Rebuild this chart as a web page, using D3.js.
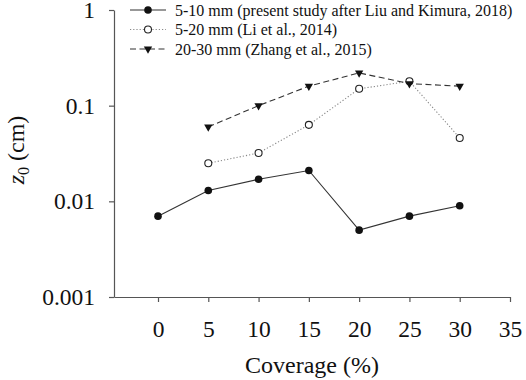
<!DOCTYPE html>
<html>
<head>
<meta charset="utf-8">
<script src="https://cdn.jsdelivr.net/npm/d3@7"></script>
<style>
  body { margin: 0; background: #fff; }
</style>
</head>
<body>
<script>
const width = 526, height = 380
const serif = '"Liberation Serif"'

const coverage = [0, 5, 10, 15, 20, 25, 30]
const liuKimura = [0.007, 0.013, 0.017, 0.021, 0.005, 0.007, 0.009]
const liCoverage = [5, 10, 15, 20, 25, 30]
const li2014 = [0.025, 0.032, 0.063, 0.15, 0.18, 0.046]
const zhangCoverage = [5, 10, 15, 20, 25, 30]
const zhang2015 = [0.06, 0.1, 0.16, 0.22, 0.17, 0.16]

const xTicks = [0, 5, 10, 15, 20, 25, 30, 35]
const yTicks = [0.001, 0.01, 0.1, 1]
const yTickLabels = ['0.001', '0.01', '0.1', '1']

const series = [
  { label: '5-10 mm (present study after Liu and Kimura, 2018)', xs: coverage, ys: liuKimura,
    marker: 'filled', dash: null, stroke: '#333' },
  { label: '5-20 mm (Li et al., 2014)', xs: liCoverage, ys: li2014,
    marker: 'open', dash: '1.2,2', stroke: '#888' },
  { label: '20-30 mm (Zhang et al., 2015)', xs: zhangCoverage, ys: zhang2015,
    marker: 'triangle', dash: '6,3.5', stroke: '#333' }
]

const x = d3.scaleLinear().domain([-4.375, 35]).range([114, 510])
const y = d3.scaleLog().domain([0.001, 1]).range([297, 10])

const svg = d3.select('body').append('svg')
  .attr('width', width)
  .attr('height', height)

// axes
svg.append('g')
  .attr('transform', `translate(0,${y(0.001)})`)
  .call(d3.axisBottom(x).tickValues(xTicks).tickSize(5).tickSizeOuter(0).tickPadding(18))

svg.append('g')
  .attr('transform', `translate(${x(-4.375)},0)`)
  .call(d3.axisLeft(y).tickValues(yTicks).tickFormat((d, i) => yTickLabels[i])
    .tickSize(5).tickSizeOuter(0).tickPadding(14))

svg.selectAll('.domain, .tick line').attr('stroke', '#555').attr('stroke-width', 1.2)
svg.selectAll('.tick text')
  .style('font-family', serif)
  .attr('font-size', 23.5)
  .attr('fill', '#111')

// axis titles
svg.append('text')
  .attr('x', 312).attr('y', 373)
  .attr('text-anchor', 'middle')
  .style('font-family', serif)
  .attr('font-size', 24)
  .attr('fill', '#111')
  .text('Coverage (%)')

const yt = svg.append('text')
  .attr('transform', 'translate(24,150) rotate(-90)')
  .attr('text-anchor', 'middle')
  .style('font-family', serif)
  .attr('font-size', 24)
  .attr('fill', '#111')
yt.append('tspan').attr('font-style', 'italic').text('z')
yt.append('tspan').attr('font-size', 16).attr('dy', 5).text('0')
yt.append('tspan').attr('dy', -5).text(' (cm)')

// marker drawing
function drawMarker (g, type) {
  if (type === 'filled') {
    g.append('circle').attr('r', 3.8).attr('fill', '#111')
  } else if (type === 'open') {
    g.append('circle').attr('r', 3.5).attr('fill', '#fff').attr('stroke', '#222').attr('stroke-width', 1.1)
  } else {
    g.append('path').attr('d', d3.symbol(d3.symbolTriangle, 30)()).attr('transform', 'rotate(180)').attr('fill', '#111')
  }
}

const line = d3.line().x(d => x(d[0])).y(d => y(d[1]))

series.forEach(s => {
  const pts = s.xs.map((v, i) => [v, s.ys[i]])
  svg.append('path')
    .datum(pts)
    .attr('d', line)
    .attr('fill', 'none')
    .attr('stroke', s.stroke)
    .attr('stroke-width', 1.1)
    .attr('stroke-dasharray', s.dash)
  pts.forEach(p => {
    const g = svg.append('g').attr('transform', `translate(${x(p[0])},${y(p[1])})`)
    drawMarker(g, s.marker)
  })
})

// legend
const legend = svg.append('g')
series.forEach((s, i) => {
  const ly = 10 + i * 19.5
  legend.append('line')
    .attr('x1', 130).attr('x2', 166).attr('y1', ly).attr('y2', ly)
    .attr('stroke', s.stroke)
    .attr('stroke-width', 1.1)
    .attr('stroke-dasharray', s.dash)
  const g = legend.append('g').attr('transform', `translate(148,${ly})`)
  drawMarker(g, s.marker)
  legend.append('text')
    .attr('x', 175).attr('y', ly + 5.5)
    .style('font-family', serif)
    .attr('font-size', 16)
    .attr('fill', '#111')
    .text(s.label)
})
</script>
</body>
</html>
